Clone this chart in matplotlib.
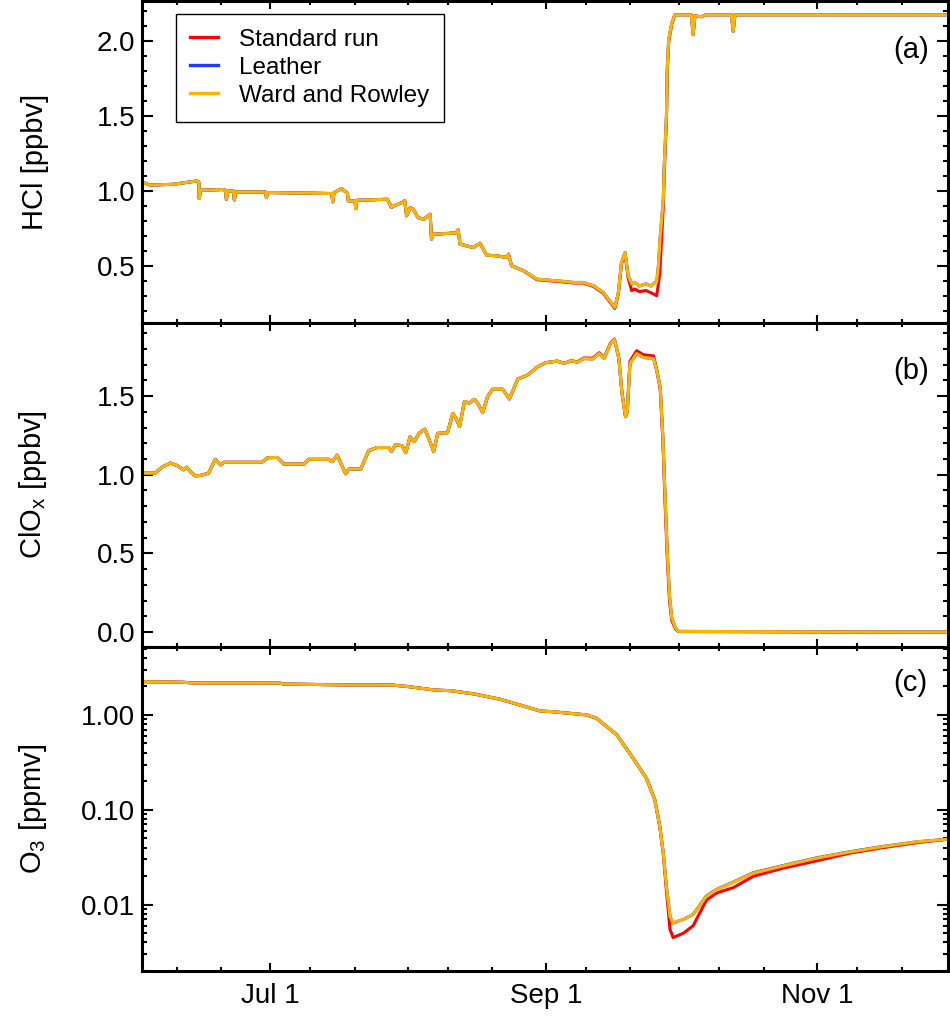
import numpy as np
import matplotlib
matplotlib.use('Agg')
import matplotlib.pyplot as plt
import matplotlib.dates as mdates
from matplotlib.ticker import FixedLocator, MultipleLocator, FormatStrFormatter, LogLocator, NullFormatter

plt.rcParams['font.family'] = ['Liberation Sans', 'DejaVu Sans']
plt.rcParams['mathtext.fontset'] = 'custom'
plt.rcParams['mathtext.rm'] = 'Liberation Sans'

# days after Jun 1
start = np.datetime64('2003-06-01T00:00')

# ---- HCl [ppbv]
hcl_days = [1.2, 3.0, 8.3, 13.5, 14.0, 14.1, 14.4, 19.4, 20.0, 20.2, 20.6, 21.8, 22.0, 22.3,
            29.0, 29.2, 29.5, 40.5, 43.9, 44.1, 44.4, 46.1, 47.4, 47.6, 49.1, 49.3, 49.5,
            56.4, 57.3, 57.8, 59.8, 60.3, 60.7, 61.5, 62.2, 63.3, 64.5, 66.0, 66.3, 66.7,
            71.8, 72.3, 72.7, 75.7, 77.2, 78.7, 81.0, 83.2, 83.6, 84.3, 87.0, 90.0, 94.5,
            98.3, 100.4, 102.7, 104.9, 107.5, 108.3, 109.0, 109.8,
            110.5, 111.3, 112.0, 113.0, 113.5, 114.5, 115.6, 116.3, 116.9, 117.3, 117.6,
            118.4, 118.6, 119.1, 119.3, 119.6, 120.3, 121.0, 124.7, 125.1, 125.5, 127.0,
            128.0, 133.7, 134.1, 134.5, 182.5]
hcl_ward = [1.060, 1.040, 1.045, 1.067, 1.060, 0.950, 1.005, 1.010, 1.005, 0.945, 1.000, 1.000, 0.940, 0.994,
            0.994, 0.956, 0.990, 0.985, 0.983, 0.927, 0.990, 1.016, 0.985, 0.934, 0.935, 0.882, 0.938,
            0.945, 0.890, 0.900, 0.925, 0.935, 0.834, 0.889, 0.878, 0.822, 0.811, 0.845, 0.678, 0.711,
            0.720, 0.740, 0.645, 0.622, 0.651, 0.571, 0.567, 0.556, 0.578, 0.500, 0.467, 0.411, 0.400,
            0.389, 0.389, 0.367, 0.322, 0.222, 0.322, 0.522, 0.589,
            0.434, 0.378, 0.390, 0.365, 0.370, 0.380, 0.365, 0.385, 0.389, 0.500, 0.656,
            0.945, 1.167, 1.500, 1.833, 2.011, 2.122, 2.178, 2.178, 2.045, 2.170, 2.165,
            2.178, 2.178, 2.067, 2.178, 2.178]
hcl_leather = [1.060, 1.040, 1.045, 1.067, 1.060, 0.950, 1.005, 1.010, 1.005, 0.945, 1.000, 1.000, 0.940, 0.994,
               0.994, 0.956, 0.990, 0.985, 0.983, 0.927, 0.990, 1.016, 0.985, 0.934, 0.935, 0.882, 0.938,
               0.945, 0.890, 0.900, 0.925, 0.935, 0.834, 0.889, 0.878, 0.822, 0.811, 0.845, 0.678, 0.711,
               0.720, 0.740, 0.645, 0.622, 0.651, 0.571, 0.567, 0.556, 0.578, 0.500, 0.467, 0.411, 0.400,
               0.389, 0.389, 0.367, 0.322, 0.222, 0.322, 0.522, 0.589,
               0.434, 0.378, 0.390, 0.365, 0.370, 0.380, 0.365, 0.385, 0.389, 0.500, 0.656,
               0.945, 1.167, 1.500, 1.833, 2.011, 2.122, 2.178, 2.178, 2.045, 2.170, 2.165,
               2.178, 2.178, 2.067, 2.178, 2.178]
hcl_standard = [1.060, 1.040, 1.045, 1.067, 1.060, 0.950, 1.005, 1.010, 1.005, 0.945, 1.000, 1.000, 0.940, 0.994,
                0.994, 0.956, 0.990, 0.985, 0.983, 0.927, 0.990, 1.016, 0.985, 0.934, 0.935, 0.882, 0.938,
                0.945, 0.890, 0.900, 0.925, 0.935, 0.834, 0.889, 0.878, 0.822, 0.811, 0.845, 0.678, 0.711,
                0.720, 0.740, 0.645, 0.622, 0.651, 0.571, 0.567, 0.556, 0.578, 0.500, 0.467, 0.407, 0.396,
                0.385, 0.385, 0.362, 0.317, 0.215, 0.315, 0.515, 0.580,
                0.420, 0.334, 0.345, 0.327, 0.330, 0.335, 0.320, 0.310, 0.300, 0.380, 0.450,
                0.900, 1.120, 1.470, 1.810, 1.995, 2.115, 2.178, 2.178, 2.045, 2.170, 2.165,
                2.178, 2.178, 2.067, 2.178, 2.178]

# ---- ClOx [ppbv]
clox_days = [1.2, 4.2, 5.7, 7.6, 9.1, 10.6, 11.3, 12.1, 13.2, 14.3, 16.2, 17.7, 18.9, 19.6,
             28.2, 29.4, 31.6, 33.1, 37.6, 38.7, 43.2, 44.0, 45.1, 47.0, 47.7, 50.4, 52.2,
             54.1, 56.7, 57.3, 58.2, 59.7, 60.5, 61.5, 62.4, 63.5, 64.8, 65.8, 66.8, 67.7,
             69.9, 71.1, 71.8, 72.6, 73.7, 74.8, 75.9, 76.7, 77.8, 78.9, 80.0, 82.3, 83.8,
             85.7, 87.9, 90.2, 92.0, 94.6, 96.1, 97.6, 99.1, 100.6, 102.5, 104.0, 105.1,
             106.5, 107.4, 108.4, 109.1, 109.9, 110.3, 110.9, 112.4, 113.9, 116.2, 116.9,
             117.7, 118.3, 118.8, 119.3, 119.8, 120.3, 121.1, 121.8, 182.5]
clox_ward = [1.010, 1.010, 1.048, 1.074, 1.059, 1.031, 1.048, 1.020, 0.993, 0.995, 1.010, 1.098, 1.062, 1.079,
             1.079, 1.108, 1.110, 1.068, 1.068, 1.098, 1.098, 1.083, 1.125, 1.006, 1.036, 1.036, 1.154,
             1.173, 1.173, 1.148, 1.190, 1.185, 1.140, 1.242, 1.210, 1.263, 1.290, 1.221, 1.147, 1.263,
             1.267, 1.390, 1.359, 1.306, 1.465, 1.455, 1.479, 1.454, 1.395, 1.496, 1.543, 1.543, 1.481,
             1.608, 1.634, 1.686, 1.712, 1.722, 1.707, 1.724, 1.715, 1.738, 1.735, 1.770, 1.738,
             1.830, 1.859, 1.740, 1.520, 1.369, 1.400, 1.707, 1.770, 1.745, 1.738, 1.665,
             1.559, 1.243, 0.862, 0.503, 0.229, 0.092, 0.029, 0.005, 0.000]
clox_leather = [1.010, 1.010, 1.048, 1.074, 1.059, 1.031, 1.048, 1.020, 0.993, 0.995, 1.010, 1.098, 1.062, 1.079,
                1.079, 1.108, 1.110, 1.068, 1.068, 1.098, 1.098, 1.083, 1.125, 1.006, 1.036, 1.036, 1.154,
                1.173, 1.173, 1.148, 1.190, 1.185, 1.140, 1.242, 1.210, 1.263, 1.290, 1.221, 1.147, 1.263,
                1.267, 1.390, 1.359, 1.306, 1.465, 1.455, 1.479, 1.454, 1.395, 1.496, 1.543, 1.543, 1.481,
                1.608, 1.634, 1.686, 1.712, 1.722, 1.707, 1.724, 1.715, 1.738, 1.735, 1.770, 1.738,
                1.830, 1.859, 1.740, 1.520, 1.369, 1.400, 1.707, 1.770, 1.745, 1.738, 1.665,
                1.559, 1.243, 0.862, 0.503, 0.229, 0.092, 0.029, 0.005, 0.000]
clox_standard = [1.010, 1.010, 1.048, 1.074, 1.059, 1.031, 1.048, 1.020, 0.993, 0.995, 1.010, 1.098, 1.062, 1.079,
                 1.079, 1.108, 1.110, 1.068, 1.068, 1.098, 1.098, 1.083, 1.125, 1.006, 1.036, 1.036, 1.154,
                 1.173, 1.173, 1.148, 1.190, 1.185, 1.140, 1.242, 1.210, 1.263, 1.290, 1.221, 1.147, 1.263,
                 1.267, 1.390, 1.359, 1.306, 1.465, 1.455, 1.479, 1.454, 1.395, 1.496, 1.543, 1.543, 1.481,
                 1.608, 1.634, 1.686, 1.712, 1.722, 1.707, 1.724, 1.718, 1.742, 1.740, 1.775, 1.742,
                 1.835, 1.862, 1.742, 1.520, 1.369, 1.400, 1.720, 1.788, 1.762, 1.755, 1.668,
                 1.545, 1.215, 0.820, 0.465, 0.195, 0.075, 0.022, 0.004, 0.000]

# ---- O3 [ppmv]
o3_days = [1.4, 10.5, 12.7, 32.2, 33.0, 46.7, 57.2, 61.0, 67.0, 70.7, 76.0, 81.8, 86.2, 90.7,
           93.7, 101.2, 103.4, 107.9, 111.6, 114.6, 116.5, 117.6, 118.4, 119.1, 119.9, 120.6,
           122.9, 125.1, 128.1, 130.4, 134.1, 138.6, 145.4, 152.9, 160.4, 167.9, 175.4, 182.5]
o3_ward = [2.24, 2.21, 2.17, 2.17, 2.12, 2.07, 2.07, 1.99, 1.83, 1.80, 1.66, 1.46, 1.27, 1.10,
           1.08, 1.00, 0.92, 0.62, 0.35, 0.215, 0.127, 0.067, 0.035, 0.0156, 0.0075, 0.0064,
           0.0070, 0.0079, 0.0123, 0.0144, 0.0172, 0.0215, 0.0257, 0.031, 0.036, 0.041, 0.046, 0.049]
o3_leather = [2.24, 2.21, 2.17, 2.17, 2.12, 2.07, 2.07, 1.99, 1.83, 1.80, 1.66, 1.46, 1.27, 1.10,
              1.08, 1.00, 0.92, 0.62, 0.35, 0.215, 0.127, 0.067, 0.035, 0.0156, 0.0075, 0.0064,
              0.0070, 0.0079, 0.0124, 0.0145, 0.0173, 0.0217, 0.0259, 0.0312, 0.0362, 0.0412, 0.046, 0.049]
o3_standard = [2.24, 2.21, 2.17, 2.17, 2.12, 2.07, 2.07, 1.99, 1.83, 1.80, 1.66, 1.46, 1.27, 1.10,
               1.08, 1.00, 0.92, 0.62, 0.35, 0.215, 0.127, 0.067, 0.034, 0.0140, 0.0055, 0.0045,
               0.0050, 0.0060, 0.0112, 0.0133, 0.0151, 0.0199, 0.0243, 0.029, 0.035, 0.040, 0.045, 0.049]

series_names = ['Standard run', 'Leather', 'Ward and Rowley']
series_colors = ['#ff0000', '#1e3cff', '#ffb400']


def to_dates(days):
    return start + (np.array(days) * 1440).astype('timedelta64[m]')


fig = plt.figure(figsize=(9.5, 10.16), dpi=100)
left, width = 0.1495, 0.8485
ax_a = fig.add_axes([left, 0.6821, width, 0.3169])
ax_b = fig.add_axes([left, 0.3632, width, 0.3189])
ax_c = fig.add_axes([left, 0.0443, width, 0.3189])

panels = [
    (ax_a, hcl_days, [hcl_standard, hcl_leather, hcl_ward]),
    (ax_b, clox_days, [clox_standard, clox_leather, clox_ward]),
    (ax_c, o3_days, [o3_standard, o3_leather, o3_ward]),
]

for ax, days, vals in panels:
    t = to_dates(days)
    for v, name, col in zip(vals, series_names, series_colors):
        ax.plot(t, v, color=col, lw=2.2, label=name)

ax_c.set_yscale('log')

ax_a.set_ylim(0.118, 2.27)
ax_b.set_ylim(-0.094, 1.964)
ax_c.set_ylim(0.002, 5.2)

ax_a.yaxis.set_major_locator(FixedLocator([0.5, 1.0, 1.5, 2.0]))
ax_a.yaxis.set_minor_locator(MultipleLocator(0.1))
ax_a.yaxis.set_major_formatter(FormatStrFormatter('%.1f'))
ax_b.yaxis.set_major_locator(FixedLocator([0.0, 0.5, 1.0, 1.5]))
ax_b.yaxis.set_minor_locator(MultipleLocator(0.1))
ax_b.yaxis.set_major_formatter(FormatStrFormatter('%.1f'))
ax_c.yaxis.set_major_locator(FixedLocator([0.01, 0.1, 1.0]))
ax_c.yaxis.set_minor_locator(LogLocator(base=10, subs=np.arange(2, 10), numticks=20))
ax_c.yaxis.set_major_formatter(FormatStrFormatter('%.2f'))
ax_c.yaxis.set_minor_formatter(NullFormatter())

xmin = start + np.timedelta64(int(1.25 * 1440), 'm')
xmax = start + np.timedelta64(int(182.4 * 1440), 'm')

for ax in (ax_a, ax_b, ax_c):
    ax.set_xlim(xmin, xmax)
    ax.xaxis.set_major_locator(mdates.MonthLocator(bymonth=[7, 9, 11]))
    ax.xaxis.set_minor_locator(mdates.DayLocator(bymonthday=[1, 10, 20]))
    ax.xaxis.set_major_formatter(mdates.DateFormatter('%b %-d'))
    for s in ax.spines.values():
        s.set_linewidth(2.2)
    ax.tick_params(axis='both', which='both', direction='in', top=True, right=True, width=1.5)
    ax.tick_params(axis='y', which='major', length=8, pad=5, labelsize=20)
    ax.tick_params(axis='y', which='minor', length=3.8)
    ax.tick_params(axis='x', which='major', length=6, pad=9, labelsize=20)
    ax.tick_params(axis='x', which='minor', length=3)

ax_a.tick_params(axis='x', labelbottom=False)
ax_b.tick_params(axis='x', labelbottom=False)

ax_a.set_ylabel('HCl [ppbv]', fontsize=21)
ax_b.set_ylabel(r'ClO$_\mathregular{x}$ [ppbv]', fontsize=21)
ax_c.set_ylabel(r'O$_\mathregular{3}$ [ppmv]', fontsize=21)
for ax in (ax_a, ax_b, ax_c):
    ax.yaxis.set_label_coords(-0.115, 0.5)

ax_a.text(0.954, 0.848, '(a)', transform=ax_a.transAxes, ha='center', va='center', fontsize=21)
ax_b.text(0.954, 0.853, '(b)', transform=ax_b.transAxes, ha='center', va='center', fontsize=21)
ax_c.text(0.953, 0.89, '(c)', transform=ax_c.transAxes, ha='center', va='center', fontsize=21)

leg = ax_a.legend(loc='upper left', bbox_to_anchor=(0.042, 0.959), borderaxespad=0,
                  fontsize=17.5, handlelength=1.15, handletextpad=0.85, labelspacing=0.25,
                  borderpad=0.6, fancybox=False, framealpha=1, edgecolor='black')
leg.get_frame().set_linewidth(1.0)
for line in leg.get_lines():
    line.set_linewidth(2.4)

fig.savefig('out.png', dpi=100)
